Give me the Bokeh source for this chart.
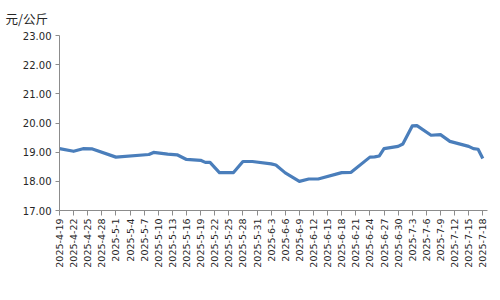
from datetime import date
from bokeh.plotting import figure
from bokeh.models import FixedTicker, NumeralTickFormatter, ColumnDataSource
from bokeh.embed import file_html
from bokeh.resources import INLINE
import math

unit_label = "元/公斤"

dates = ["2025-4-19", "2025-4-22", "2025-4-24", "2025-4-26", "2025-5-1", "2025-5-8",
         "2025-5-9", "2025-5-12", "2025-5-14", "2025-5-16", "2025-5-19", "2025-5-20",
         "2025-5-21", "2025-5-23", "2025-5-26", "2025-5-28", "2025-5-30", "2025-6-3",
         "2025-6-4", "2025-6-6", "2025-6-9", "2025-6-11", "2025-6-13", "2025-6-18",
         "2025-6-20", "2025-6-24", "2025-6-25", "2025-6-26", "2025-6-27", "2025-6-30",
         "2025-7-1", "2025-7-3", "2025-7-4", "2025-7-7", "2025-7-9", "2025-7-11",
         "2025-7-15", "2025-7-16", "2025-7-17", "2025-7-18"]
prices = [19.12, 19.03, 19.12, 19.11, 18.83, 18.92,
          18.99, 18.93, 18.91, 18.75, 18.72, 18.65,
          18.65, 18.30, 18.30, 18.68, 18.68, 18.60,
          18.56, 18.29, 18.00, 18.08, 18.08, 18.30,
          18.31, 18.83, 18.84, 18.87, 19.12, 19.20,
          19.28, 19.90, 19.91, 19.58, 19.60, 19.37,
          19.20, 19.12, 19.10, 18.78]

tick_labels = ["2025-4-19", "2025-4-22", "2025-4-25", "2025-4-28", "2025-5-1", "2025-5-4",
               "2025-5-7", "2025-5-10", "2025-5-13", "2025-5-16", "2025-5-19", "2025-5-22",
               "2025-5-25", "2025-5-28", "2025-5-31", "2025-6-3", "2025-6-6", "2025-6-9",
               "2025-6-12", "2025-6-15", "2025-6-18", "2025-6-21", "2025-6-24", "2025-6-27",
               "2025-6-30", "2025-7-3", "2025-7-6", "2025-7-9", "2025-7-12", "2025-7-15",
               "2025-7-18"]
y_ticks = [17, 18, 19, 20, 21, 22, 23]


def to_day(s):
    y, m, d = map(int, s.split("-"))
    return (date(y, m, d) - date(2025, 4, 19)).days


xs = [to_day(s) for s in dates]
tick_pos = [to_day(s) for s in tick_labels]

p = figure(width=500, height=300, output_backend="svg", toolbar_location=None,
           x_range=(0, 91), y_range=(17, 23),
           min_border_left=59, min_border_right=13, min_border_top=35, min_border_bottom=90)
p.outline_line_color = None
p.xgrid.visible = False
p.ygrid.visible = False
p.background_fill_color = "white"
p.border_fill_color = "white"

src = ColumnDataSource(dict(x=xs, y=prices))
p.line("x", "y", source=src, line_color="#4A7EBB", line_width=3.2, line_join="round")

font = "DejaVu Sans"
axis_col = "#8C8C8C"
text_col = "#262626"

xa = p.xaxis[0]
xa.ticker = FixedTicker(ticks=tick_pos)
xa.major_label_overrides = {pos: lab for pos, lab in zip(tick_pos, tick_labels)}
xa.major_label_orientation = math.pi / 2
xa.major_label_text_font = font
xa.major_label_text_font_size = "9.5px"
xa.major_label_text_color = text_col
xa.axis_line_color = axis_col
xa.major_tick_line_color = axis_col
xa.major_tick_out = 5
xa.major_tick_in = 0
xa.minor_tick_line_color = None
xa.major_label_standoff = 3

ya = p.yaxis[0]
ya.ticker = FixedTicker(ticks=y_ticks)
ya.formatter = NumeralTickFormatter(format="0.00")
ya.major_label_text_font = font
ya.major_label_text_font_size = "10px"
ya.major_label_text_color = text_col
ya.axis_line_color = axis_col
ya.major_tick_line_color = axis_col
ya.major_tick_out = 4
ya.major_tick_in = 0
ya.minor_tick_line_color = None
ya.major_label_standoff = 4

p.title.text = unit_label
p.title.align = "left"
p.title.offset = -54
p.title.text_font = "Noto Sans CJK SC"
p.title.text_font_size = "12.5px"
p.title.text_font_style = "normal"
p.title.text_color = text_col
p.title.vertical_align = "middle"
p.title.standoff = 14

open("out.html", "w").write(file_html(p, INLINE))
